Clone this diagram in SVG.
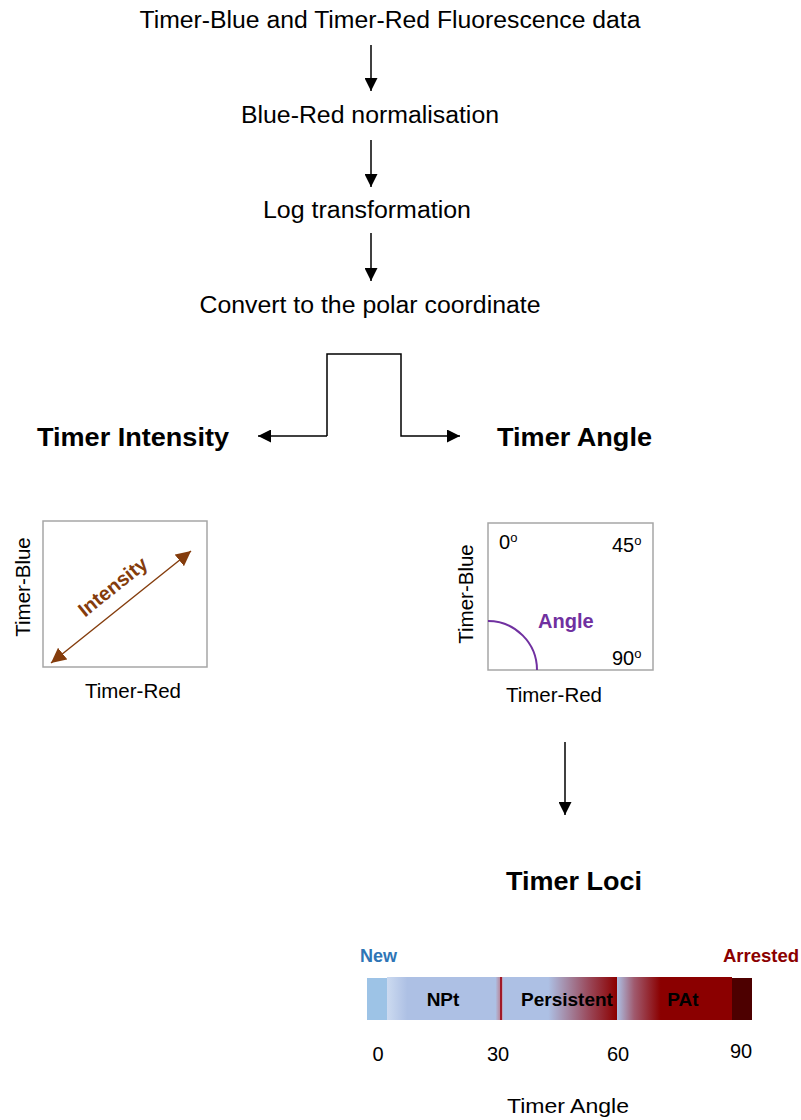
<svg xmlns="http://www.w3.org/2000/svg" width="801" height="1120" viewBox="0 0 801 1120">
  <style>
    text { font-family: "Liberation Sans", Arial, sans-serif; fill: #000; }
    .step { font-size: 23.5px; text-anchor: middle; }
    .head { font-size: 26px; font-weight: bold; }
    .axis { font-size: 20.5px; text-anchor: middle; }
    .deg { font-size: 20px; }
    .sup { font-size: 13px; }
    .seg { font-size: 19px; font-weight: bold; text-anchor: middle; }
    .tick { font-size: 20px; text-anchor: middle; }
    .conn { fill: none; stroke: #000; stroke-width: 1.5; }
    .frame { fill: #fff; stroke: #a6a6a6; stroke-width: 1.5; }
  </style>
  <defs>
    <marker id="arrowBig" viewBox="0 0 10 10" refX="10" refY="5" markerWidth="13" markerHeight="13" markerUnits="userSpaceOnUse" orient="auto">
      <path d="M0,0 L10,5 L0,10 Z" fill="#000"/>
    </marker>
    <marker id="brown" viewBox="0 0 10 10" refX="10" refY="5" markerWidth="15" markerHeight="15" markerUnits="userSpaceOnUse" orient="auto-start-reverse">
      <path d="M0,0 L10,5 L0,10 Z" fill="#843c0c"/>
    </marker>
    <linearGradient id="gNPt" x1="0" x2="1" y1="0" y2="0">
      <stop offset="0" stop-color="#ccdaf0"/>
      <stop offset="0.18" stop-color="#adc0e4"/>
      <stop offset="0.96" stop-color="#adc0e4"/>
      <stop offset="1" stop-color="#b88a9e"/>
    </linearGradient>
    <linearGradient id="gPers" x1="0" x2="1" y1="0" y2="0">
      <stop offset="0" stop-color="#adc0e4"/>
      <stop offset="0.4" stop-color="#adc0e4"/>
      <stop offset="0.75" stop-color="#9a4a5c"/>
      <stop offset="1" stop-color="#8b0000"/>
    </linearGradient>
    <linearGradient id="gPAt" x1="0" x2="1" y1="0" y2="0">
      <stop offset="0" stop-color="#adc0e4"/>
      <stop offset="0.15" stop-color="#a05a6e"/>
      <stop offset="0.38" stop-color="#8b0000"/>
      <stop offset="1" stop-color="#8b0000"/>
    </linearGradient>
  </defs>

  <!-- pipeline steps -->
  <g id="step-data"><text class="step" x="390" y="28" textLength="501" lengthAdjust="spacingAndGlyphs">Timer-Blue and Timer-Red Fluorescence data</text></g>
  <g id="step-normalise"><text class="step" x="370" y="123" textLength="258" lengthAdjust="spacingAndGlyphs">Blue-Red normalisation</text></g>
  <g id="step-log"><text class="step" x="367" y="218" textLength="208" lengthAdjust="spacingAndGlyphs">Log transformation</text></g>
  <g id="step-polar"><text class="step" x="370" y="313" textLength="341" lengthAdjust="spacingAndGlyphs">Convert to the polar coordinate</text></g>

  <!-- branch headings -->
  <g id="intensity-title"><text class="head" x="37" y="446" textLength="192" lengthAdjust="spacingAndGlyphs">Timer Intensity</text></g>
  <g id="angle-title"><text class="head" x="497" y="446" textLength="155" lengthAdjust="spacingAndGlyphs">Timer Angle</text></g>

  <!-- intensity plot -->
  <g id="intensity-plot">
    <rect class="frame" x="43" y="521" width="164" height="146"/>
    <line x1="51" y1="663" x2="191" y2="551" stroke="#843c0c" stroke-width="1.5" marker-start="url(#brown)" marker-end="url(#brown)"/>
    <text x="117" y="592" font-size="20" font-weight="bold" style="fill:#843c0c" text-anchor="middle" transform="rotate(-38.7 117 592)">Intensity</text>
    <text class="axis" x="0" y="0" transform="translate(30 587) rotate(-90)">Timer-Blue</text>
    <text class="axis" x="133" y="698">Timer-Red</text>
  </g>

  <!-- angle plot -->
  <g id="angle-plot">
    <rect class="frame" x="488" y="523" width="165" height="147"/>
    <path d="M488,621 A49,49 0 0 1 537,670" fill="none" stroke="#7030a0" stroke-width="2"/>
    <text x="538" y="628" font-size="20" font-weight="bold" style="fill:#7030a0">Angle</text>
    <text class="deg" x="499" y="549">0<tspan class="sup" dy="-7">o</tspan></text>
    <text class="deg" x="612" y="552">45<tspan class="sup" dy="-7">o</tspan></text>
    <text class="deg" x="612" y="665">90<tspan class="sup" dy="-7">o</tspan></text>
    <text class="axis" x="0" y="0" transform="translate(473 594) rotate(-90)">Timer-Blue</text>
    <text class="axis" x="554" y="702">Timer-Red</text>
  </g>

  <!-- loci -->
  <g id="loci-title"><text class="head" x="506" y="890" textLength="136" lengthAdjust="spacingAndGlyphs">Timer Loci</text></g>
  <g id="loci-bar">
    <rect x="367" y="978" width="20" height="42" fill="#9dc3e6"/>
    <rect x="387" y="977" width="113" height="43" fill="url(#gNPt)"/>
    <rect x="500" y="977" width="2.5" height="43" fill="#a01828"/>
    <rect x="502.5" y="977" width="114.5" height="43" fill="url(#gPers)"/>
    <rect x="617" y="977" width="115" height="43" fill="url(#gPAt)"/>
    <rect x="732" y="978" width="20" height="42" fill="#4d0000"/>
    <text class="seg" x="443" y="1006">NPt</text>
    <text class="seg" x="567" y="1006">Persistent</text>
    <text class="seg" x="683" y="1006">PAt</text>
    <text x="360" y="962" font-size="18" font-weight="bold" style="fill:#2e75b6">New</text>
    <text x="723" y="962" font-size="18.5" font-weight="bold" style="fill:#8b0000">Arrested</text>
    <text class="tick" x="378" y="1061">0</text>
    <text class="tick" x="498" y="1061">30</text>
    <text class="tick" x="618" y="1061">60</text>
    <text class="tick" x="741" y="1058">90</text>
    <text class="tick" x="568" y="1113" font-size="21" textLength="122" lengthAdjust="spacingAndGlyphs">Timer Angle</text>
  </g>

  <!-- connectors -->
  <g id="connectors">
    <line class="conn" x1="371" y1="45" x2="371" y2="91" marker-end="url(#arrowBig)"/>
    <line class="conn" x1="371" y1="140" x2="371" y2="187" marker-end="url(#arrowBig)"/>
    <line class="conn" x1="371" y1="233" x2="371" y2="281" marker-end="url(#arrowBig)"/>
    <path class="conn" d="M327,436 V354 H401 V436 H460" marker-end="url(#arrowBig)"/>
    <path class="conn" d="M327,436 H258" marker-end="url(#arrowBig)"/>
    <line class="conn" x1="565" y1="742" x2="565" y2="815" marker-end="url(#arrowBig)"/>
  </g>
</svg>
